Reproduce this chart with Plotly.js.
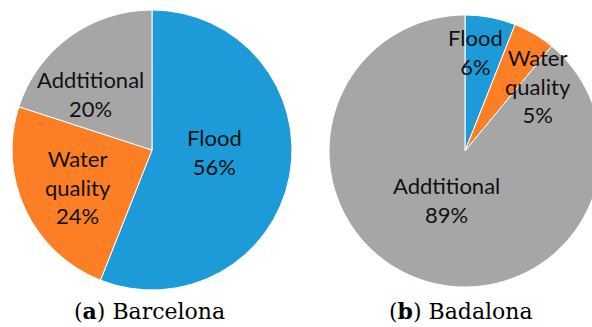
<!DOCTYPE html>
<html>
<head>
<meta charset="utf-8">
<script src="https://cdn.plot.ly/plotly-3.0.1.min.js"></script>
<style>
  html, body { margin: 0; padding: 0; overflow: hidden; background: #ffffff; }
  #chart { width: 620px; height: 327px; }
</style>
</head>
<body>
<div id="chart"></div>
<script>
// Shares of each category per city (percent)
const categories = ["Flood", "Water<br>quality", "Addtitional"];
const barcelonaValues = [56, 24, 20];
const badalonaValues = [6, 5, 89];
const sliceColors = ["#1C9BD8", "#FD7F25", "#A6A6A6"];
const captions = ["(<b>a</b>) Barcelona", "(<b>b</b>) Badalona"];

// Canvas is a little wider than the window so the right pie runs off the edge
const W = 620, H = 327;

// Pie geometry in pixels: centre and radius
const pies = [
  { values: barcelonaValues, cx: 152, cy: 150, r: 140,
    // label placement: fraction of radius along the slice bisector, plus a small nudge
    place: [[0.44, 2, -10], [0.59, 1, 2], [0.57, -15, 9]],
    caption: captions[0], capX: 149 },
  { values: badalonaValues, cx: 465, cy: 151, r: 136,
    place: [[0.715, -8, -3], [0.67, 27, 13], [0.40, 0, -2]],
    caption: captions[1], capX: 461 }
];

const labelFont = { family: "Lato, 'Liberation Sans', sans-serif", size: 22, color: "#111111" };
const captionFont = { family: "'DejaVu Serif', 'Liberation Serif', serif", size: 22, color: "#000000" };

function pieTrace(p) {
  return {
    type: "pie",
    labels: categories,
    values: p.values,
    sort: false,
    direction: "clockwise",
    rotation: 0,
    domain: {
      x: [(p.cx - p.r) / W, (p.cx + p.r) / W],
      y: [1 - (p.cy + p.r) / H, 1 - (p.cy - p.r) / H]
    },
    marker: { colors: sliceColors, line: { color: "#ffffff", width: 1 } },
    textinfo: "none",
    hoverinfo: "label+percent",
    showlegend: false
  };
}

// Slice labels sit on each slice's bisector, derived from the values
function sliceLabels(p) {
  const total = p.values.reduce((a, b) => a + b, 0);
  let cum = 0;
  return p.values.map((v, i) => {
    const mid = (cum + v / 2) / total * 2 * Math.PI;
    cum += v;
    const [f, nx, ny] = p.place[i];
    const px = p.cx + f * p.r * Math.sin(mid) + nx;
    const py = p.cy - f * p.r * Math.cos(mid) + ny;
    return {
      text: categories[i] + "<br>" + v + "%",
      x: px / W, y: 1 - py / H, xref: "paper", yref: "paper",
      xanchor: "center", yanchor: "middle", align: "center",
      showarrow: false, font: labelFont
    };
  });
}

function captionAnnotation(p) {
  return {
    text: p.caption, x: p.capX / W, y: 1 - 311 / H, xref: "paper", yref: "paper",
    xanchor: "center", yanchor: "middle", showarrow: false, font: captionFont
  };
}

const data = pies.map(pieTrace);

const layout = {
  width: W,
  height: H,
  margin: { l: 0, r: 0, t: 0, b: 0 },
  paper_bgcolor: "#ffffff",
  annotations: [].concat(
    sliceLabels(pies[0]), sliceLabels(pies[1]),
    pies.map(captionAnnotation)
  )
};

Plotly.newPlot("chart", data, layout, { displayModeBar: false, staticPlot: true });
</script>
</body>
</html>
